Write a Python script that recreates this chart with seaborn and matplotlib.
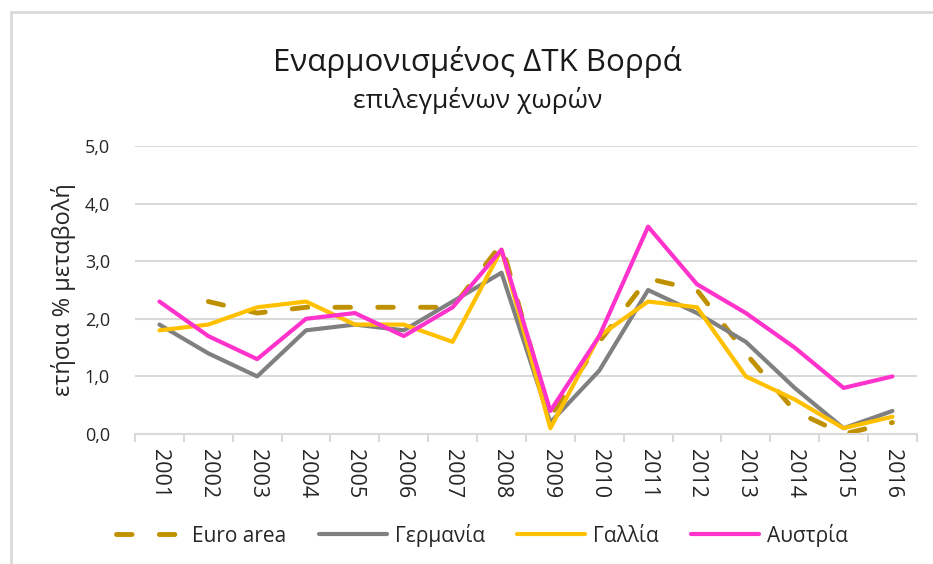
import numpy as np
import pandas as pd
import matplotlib
matplotlib.use("Agg")
import matplotlib.pyplot as plt
import seaborn as sns
from matplotlib.patches import Rectangle

# data
years = list(range(2001, 2017))
euro_area = [np.nan, 2.3, 2.1, 2.2, 2.2, 2.2, 2.2, 3.3, 0.3, 1.6, 2.7, 2.5, 1.4, 0.4, 0.0, 0.2]
germany = [1.9, 1.4, 1.0, 1.8, 1.9, 1.8, 2.3, 2.8, 0.2, 1.1, 2.5, 2.1, 1.6, 0.8, 0.1, 0.4]
france = [1.8, 1.9, 2.2, 2.3, 1.9, 1.9, 1.6, 3.2, 0.1, 1.7, 2.3, 2.2, 1.0, 0.6, 0.1, 0.3]
austria = [2.3, 1.7, 1.3, 2.0, 2.1, 1.7, 2.2, 3.2, 0.4, 1.7, 3.6, 2.6, 2.1, 1.5, 0.8, 1.0]

series_names = ["Euro area", "Γερμανία", "Γαλλία", "Αυστρία"]
series_values = [euro_area, germany, france, austria]
colors = ["#BF9000", "#808080", "#FFC000", "#FF33CC"]

sns.set_theme(style="white")
plt.rcParams["font.family"] = ["Open Sans", "DejaVu Sans"]

fig = plt.figure(figsize=(9.33, 5.64), dpi=100)
ax = fig.add_axes([0.1447, 0.2305, 0.838, 0.5106])

# light frame around the chart
fig.patches.append(Rectangle((11 / 933, -0.1), 1.2, (564 - 12) / 564 + 0.1,
                             transform=fig.transFigure, fill=False,
                             edgecolor="#D9D9D9", linewidth=2))

for name, vals, col in zip(series_names, series_values, colors):
    d = pd.DataFrame({"year": years, "value": vals}).dropna()
    if name == "Euro area":
        sns.lineplot(data=d, x="year", y="value", ax=ax, color=col, linewidth=3.5,
                     label=name, errorbar=None,
                     linestyle=(0, (3.2, 5.6)), dash_capstyle="round")
    else:
        sns.lineplot(data=d, x="year", y="value", ax=ax, color=col, linewidth=3,
                     label=name, errorbar=None, solid_capstyle="round")

ax.set_xlim(2000.5, 2016.5)
ax.set_ylim(0, 5)
yt = np.arange(0, 5.01, 1.0)
ax.set_yticks(yt)
ax.set_yticklabels([f"{v:.1f}".replace(".", ",") for v in yt],
                   fontsize=13, color="#262626")
ax.set_xticks(years)
ax.set_xticklabels([str(y) for y in years], rotation=-90, fontsize=15.5, color="#262626")
ax.set_xticks(np.arange(2000.5, 2016.6, 1.0), minor=True)
ax.tick_params(axis="x", which="major", length=0, pad=11)
ax.tick_params(axis="x", which="minor", length=6, width=1.5, color="#D9D9D9", bottom=True)
ax.tick_params(axis="y", length=0, pad=18)

ax.grid(axis="y", color="#D9D9D9", linewidth=1.5)
ax.set_axisbelow(True)
for s in ["top", "right", "left"]:
    ax.spines[s].set_visible(False)
ax.spines["bottom"].set_color("#D9D9D9")
ax.spines["bottom"].set_linewidth(1.5)

ax.set_xlabel("")
ax.set_ylabel("ετήσια % μεταβολή", fontsize=17, color="#262626", labelpad=6)

fig.text(0.512, 0.874, "Εναρμονισμένος ΔΤΚ Βορρά", ha="center", va="baseline",
         fontsize=22.5, color="#1a1a1a")
fig.text(0.512, 0.8085, "επιλεγμένων χωρών", ha="center", va="baseline",
         fontsize=19, color="#1a1a1a")

ax.legend(loc="center", bbox_to_anchor=(0.517, 0.051), bbox_transform=fig.transFigure,
          ncol=4, frameon=False, fontsize=15, handlelength=3.25, handletextpad=0.4,
          columnspacing=1.55, labelcolor="#262626")

fig.savefig("out.png", dpi=100)
